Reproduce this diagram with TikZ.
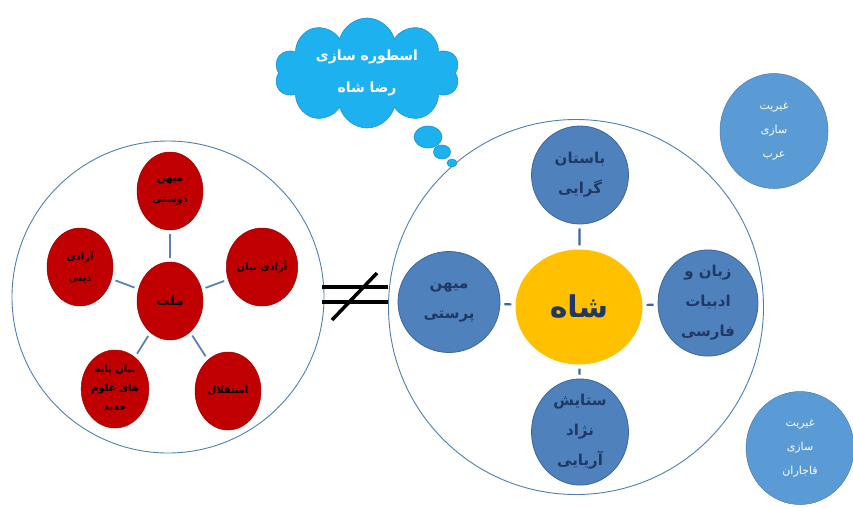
\documentclass[tikz,border=0pt]{standalone}
\usepackage{fontspec}
\usetikzlibrary{shapes.geometric,shapes.symbols}
\TeXXeTstate=1
\newfontfamily\arabicfont[Script=Arabic]{DejaVu Sans}
\newcommand{\fa}[1]{{\arabicfont\beginR #1\endR}}
\definecolor{redc}{HTML}{C00000}
\definecolor{redd}{HTML}{A00000}
\definecolor{bluec}{HTML}{4F81BD}
\definecolor{blued}{HTML}{3C679C}
\definecolor{skyc}{HTML}{5B9BD5}
\definecolor{goldc}{HTML}{FFC000}
\definecolor{navyc}{HTML}{1F3864}
\definecolor{cloudc}{HTML}{1EB1EF}
\definecolor{cloudd}{HTML}{1A92D2}
\definecolor{ringc}{HTML}{4F7FB0}
\definecolor{linkc}{HTML}{5B80B5}

\begin{document}
\begin{tikzpicture}[x=1pt, y=-1pt]
\tikzstyle{ring}=[circle, draw=ringc, line width=0.9pt, inner sep=0pt]
\tikzstyle{rd}=[ellipse, fill=redc, draw=redd, line width=0.5pt, inner sep=0pt, minimum width=66pt, minimum height=78pt, align=center, font=\bfseries\fontsize{10}{21}\selectfont]
\tikzstyle{bl}=[ellipse, fill=bluec, draw=blued, line width=0.8pt, inner sep=0pt, minimum width=97pt, minimum height=98pt, align=center, text=navyc, font=\bfseries\fontsize{15}{30}\selectfont]
\tikzstyle{sky}=[ellipse, fill=skyc, draw=skyc!80!black, line width=0.5pt, inner sep=0pt, minimum width=108pt, minimum height=115pt, align=center, text=white, font=\fontsize{11}{24}\selectfont]
\tikzstyle{bub}=[ellipse, fill=cloudc, draw=cloudd, line width=0.6pt, inner sep=0pt]
\tikzstyle{lk}=[draw=linkc, line width=1.8pt, shorten >=4pt, shorten <=4pt]
\tikzstyle{lk2}=[draw=blued, line width=2.2pt, shorten >=4pt, shorten <=4pt]
\useasboundingbox (0,0) rectangle (853,507);

\node[ring, minimum size=312pt] (nation) at (168,297) {};
\node[ring, minimum size=375pt] (king) at (576,307) {};

\node[rd, font=\bfseries\fontsize{13}{20}\selectfont] (mellat) at (170,301) {\fa{ملت}};
\node[rd] (mihan) at (170,191) {\fa{میهن}\\\fa{دوستی}};
\node[rd] (bayan) at (262,267) {\fa{آزادی بیان}};
\node[rd] (dini) at (80,267) {\fa{آزادی}\\\fa{دینی}};
\node[rd] (esteqlal) at (228,391) {\fa{استقلال}};
\node[rd, font=\bfseries\fontsize{10}{19}\selectfont] (olum) at (115,389) {\fa{بیان پایه}\\\fa{های علوم}\\\fa{جدید}};

\draw[lk] (mellat) edge (mihan) (mellat) edge (bayan) (mellat) edge (dini)
  (mellat) edge (esteqlal) (mellat) edge (olum);

\node[ellipse, fill=goldc, inner sep=0pt, minimum width=127pt, minimum height=115pt, text=navyc, font=\bfseries\fontsize{30}{36}\selectfont] (shah) at (579,307) {\fa{شاه}};
\node[bl] (bastan) at (580,175) {\fa{باستان}\\\fa{گرایی}};
\node[bl, minimum width=100pt, minimum height=103pt] (zaban) at (708,303) {\fa{زبان و}\\\fa{ادبیات}\\\fa{فارسی}};
\node[bl, minimum height=101pt] (setayesh) at (580,432) {\fa{ستایش}\\\fa{نژاد}\\\fa{آریایی}};
\node[bl, minimum width=102pt, minimum height=101pt] (mihanp) at (449,302) {\fa{میهن}\\\fa{پرستی}};

\draw[lk2] (shah) edge (bastan) (shah) edge (zaban) (shah) edge (setayesh) (shah) edge (mihanp);

\node[sky] (arab) at (774,131) {\fa{غیریت}\\\fa{سازی}\\\fa{عرب}};
\node[sky, minimum height=113pt] (qajar) at (800,448) {\fa{غیریت}\\\fa{سازی}\\\fa{قاجاران}};

\node[cloud, cloud puffs=10, cloud ignores aspect, fill=cloudc, draw=cloudd, line width=0.6pt, inner sep=0pt, minimum width=185pt, minimum height=110pt, align=center, text=white, font=\bfseries\fontsize{14}{32}\selectfont] (myth) at (367,73) {\fa{اسطوره سازی}\\\fa{رضا شاه}};
\node[bub, minimum width=28pt, minimum height=22pt] (b1) at (428,137) {};
\node[bub, minimum width=17pt, minimum height=14pt] (b2) at (442,152) {};
\node[bub, minimum width=10pt, minimum height=8pt] (b3) at (452,163) {};

% not equal
\draw[line width=3.5pt, line cap=butt] (322,287) -- (388,287) (322,302) -- (388,302);
\draw[line width=3.5pt] (332,320) -- (377,273);
\end{tikzpicture}
\end{document}
